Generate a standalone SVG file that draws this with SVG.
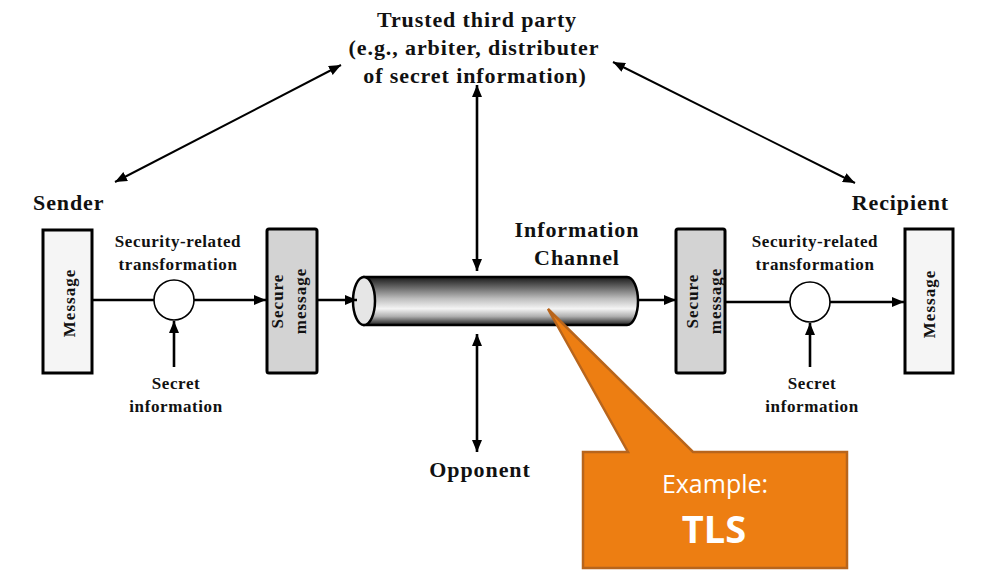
<svg xmlns="http://www.w3.org/2000/svg" width="996" height="584" viewBox="0 0 996 584">
  <defs>
    <marker id="ah" viewBox="0 0 12 10" refX="12" refY="5" markerWidth="12" markerHeight="10" orient="auto-start-reverse" markerUnits="userSpaceOnUse">
      <path d="M0,0 L12,5 L0,10 Z" fill="#000"/>
    </marker>
    <linearGradient id="cyl" x1="0" y1="0" x2="0" y2="1">
      <stop offset="0" stop-color="#1a1a1a"/>
      <stop offset="0.18" stop-color="#5a5a5a"/>
      <stop offset="0.45" stop-color="#bdbdbd"/>
      <stop offset="0.66" stop-color="#f4f4f4"/>
      <stop offset="0.82" stop-color="#b0b0b0"/>
      <stop offset="1" stop-color="#1e1e1e"/>
    </linearGradient>
    <style>
      .lbl { font-family: "Liberation Serif", "Times New Roman", serif; font-weight: bold; fill: #111; }
      .big { font-size: 22px; letter-spacing: 0.9px; }
      .sm { font-size: 17px; letter-spacing: 0.6px; }
      .box { font-size: 17px; letter-spacing: 1px; }
      .ln { stroke: #000; stroke-width: 2.6; fill: none; }
      .dg { stroke: #000; stroke-width: 2; fill: none; }
      .msg { fill: #f5f5f5; stroke: #000; stroke-width: 3; }
      .sec { fill: #d3d3d3; stroke: #000; stroke-width: 3; }
      .op { fill: #fff; stroke: #000; stroke-width: 1.6; }
      .co { font-family: "Open Sans", "Noto Sans", sans-serif; fill: #fff; }
    </style>
  </defs>

  <rect width="996" height="584" fill="#fff"/>

  <g id="ttp">
    <text class="lbl big" x="477" y="27" text-anchor="middle">Trusted third party</text>
    <text class="lbl big" x="474" y="55" text-anchor="middle">(e.g., arbiter, distributer</text>
    <text class="lbl big" x="475" y="83" text-anchor="middle">of secret information)</text>
  </g>

  <g id="sender">
    <text class="lbl big" x="33" y="210">Sender</text>
  </g>
  <g id="recipient">
    <text class="lbl big" x="949" y="210" text-anchor="end">Recipient</text>
  </g>

  <g id="message-left">
    <rect class="msg" x="43" y="230" width="49" height="143"/>
    <text class="lbl box" x="75" y="303" text-anchor="middle" transform="rotate(-90 75 303)">Message</text>
  </g>

  <g id="transform-left">
    <text class="lbl sm" x="178" y="247" text-anchor="middle">Security-related</text>
    <text class="lbl sm" x="178" y="270" text-anchor="middle">transformation</text>
    <circle class="op" cx="174" cy="300" r="20"/>
  </g>

  <g id="secret-left">
    <text class="lbl sm" x="176" y="389" text-anchor="middle">Secret</text>
    <text class="lbl sm" x="176" y="412" text-anchor="middle">information</text>
  </g>

  <g id="secure-left">
    <rect class="sec" x="267" y="229" width="50" height="144" rx="2"/>
    <text class="lbl box" x="283" y="301" text-anchor="middle" transform="rotate(-90 283 301)">Secure</text>
    <text class="lbl box" x="306" y="301" text-anchor="middle" transform="rotate(-90 306 301)">message</text>
  </g>

  <g id="channel">
    <path d="M364,277 L627,277 A11,24 0 0 1 627,325 L364,325 Z" fill="url(#cyl)" stroke="#000" stroke-width="2.5"/>
    <ellipse cx="364" cy="301" rx="11" ry="24" fill="#e6e6e6" stroke="#000" stroke-width="2.5"/>
    <text class="lbl big" x="577" y="237" text-anchor="middle">Information</text>
    <text class="lbl big" x="577" y="265" text-anchor="middle">Channel</text>
  </g>

  <g id="opponent">
    <text class="lbl big" x="480" y="477" text-anchor="middle">Opponent</text>
  </g>

  <g id="secure-right">
    <rect class="sec" x="676" y="229" width="49" height="144" rx="2"/>
    <text class="lbl box" x="698" y="301" text-anchor="middle" transform="rotate(-90 698 301)">Secure</text>
    <text class="lbl box" x="721" y="301" text-anchor="middle" transform="rotate(-90 721 301)">message</text>
  </g>

  <g id="transform-right">
    <text class="lbl sm" x="815" y="247" text-anchor="middle">Security-related</text>
    <text class="lbl sm" x="815" y="270" text-anchor="middle">transformation</text>
    <circle class="op" cx="810" cy="302" r="20"/>
  </g>

  <g id="secret-right">
    <text class="lbl sm" x="812" y="389" text-anchor="middle">Secret</text>
    <text class="lbl sm" x="812" y="412" text-anchor="middle">information</text>
  </g>

  <g id="message-right">
    <rect class="msg" x="905" y="229" width="48" height="144"/>
    <text class="lbl box" x="935" y="304" text-anchor="middle" transform="rotate(-90 935 304)">Message</text>
  </g>

  <g id="connectors">
    <line class="dg" x1="115" y1="182" x2="341" y2="65" marker-start="url(#ah)" marker-end="url(#ah)"/>
    <line class="dg" x1="613" y1="62" x2="855" y2="183" marker-start="url(#ah)" marker-end="url(#ah)"/>
    <line class="ln" x1="477" y1="85" x2="477" y2="271" marker-start="url(#ah)" marker-end="url(#ah)"/>
    <line class="ln" x1="477" y1="334" x2="477" y2="452" marker-start="url(#ah)" marker-end="url(#ah)"/>
    <line class="ln" x1="92" y1="300" x2="154" y2="300"/>
    <line class="ln" x1="194" y1="300" x2="266" y2="300" marker-end="url(#ah)"/>
    <line class="ln" x1="317" y1="300" x2="357" y2="300" marker-end="url(#ah)"/>
    <line class="ln" x1="638" y1="300" x2="676" y2="300" marker-end="url(#ah)"/>
    <line class="ln" x1="725" y1="302" x2="790" y2="302"/>
    <line class="ln" x1="830" y1="302" x2="904" y2="302" marker-end="url(#ah)"/>
    <line class="ln" x1="174" y1="367" x2="174" y2="321" marker-end="url(#ah)"/>
    <line class="ln" x1="810" y1="367" x2="810" y2="323" marker-end="url(#ah)"/>
  </g>

  <g id="callout">
    <polygon points="583,452 628,452 548,309 693,452 847,452 847,568 583,568" fill="#ED7E12" stroke="#B8651C" stroke-width="2.5" stroke-linejoin="miter"/>
    <text class="co" x="715" y="493" font-size="25" text-anchor="middle">Example:</text>
    <text class="co" x="714" y="543" font-size="38" font-weight="bold" text-anchor="middle">TLS</text>
  </g>
</svg>
